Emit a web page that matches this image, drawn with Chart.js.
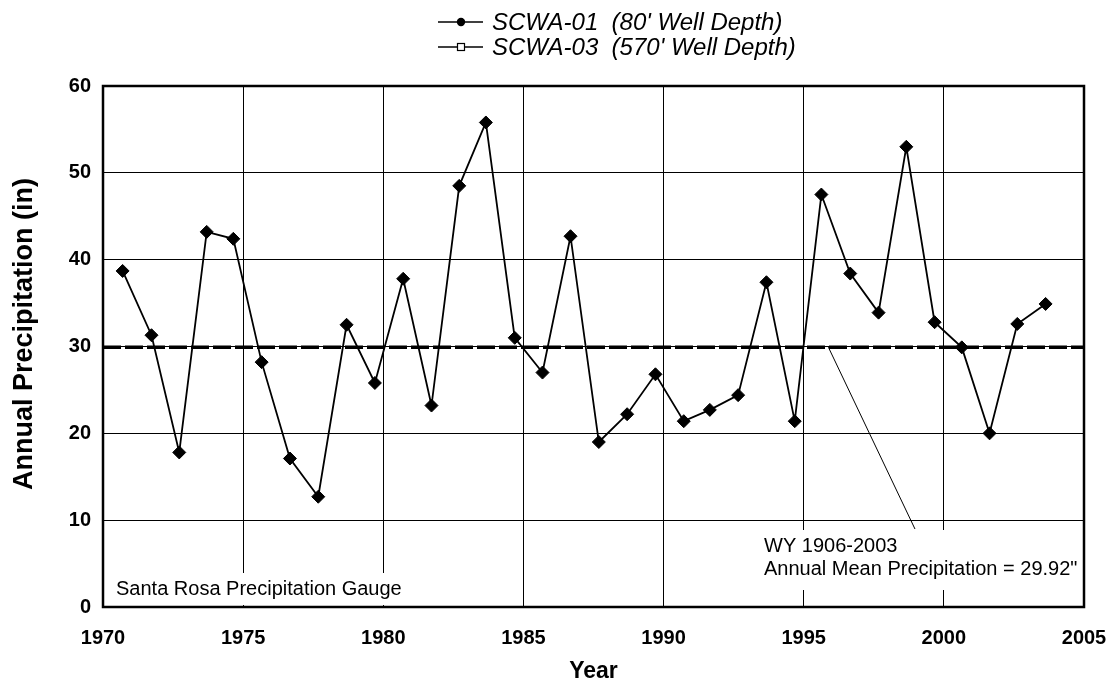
<!DOCTYPE html>
<html>
<head>
<meta charset="utf-8">
<script src="https://cdn.jsdelivr.net/npm/chart.js@4.4.1/dist/chart.umd.min.js"></script>
<style>
  html, body { margin: 0; padding: 0; background: #fff; }
  canvas { display: block; }
</style>
</head>
<body>
<canvas id="c" width="1112" height="685"></canvas>
<script>
// ---- data ----
const waterYearX = [1970.70,1971.73,1972.72,1973.70,1974.65,1975.66,1976.67,1977.68,1978.69,1979.70,
                    1980.71,1981.72,1982.71,1983.66,1984.69,1985.68,1986.68,1987.69,1988.70,1989.71,
                    1990.72,1991.65,1992.66,1993.67,1994.68,1995.63,1996.66,1997.67,1998.66,1999.67,
                    2000.64,2001.63,2002.62,2003.63];
const precipIn = [38.7,31.3,17.8,43.2,42.4,28.2,17.1,12.7,32.5,25.8,
                  37.8,23.2,48.5,55.8,31.0,27.0,42.7,19.0,22.2,26.8,
                  21.4,22.7,24.4,37.4,21.4,47.5,38.4,33.9,53.0,32.8,
                  29.9,20.0,32.6,34.9];
const meanPrecip = 29.92;
const meanSpanX = [1970, 2005];
const pointerX = [1995.88, 1998.97];
const pointerY = [29.92, 8.98];
const xTickLabels = ['1970','1975','1980','1985','1990','1995','2000','2005'];
const yTickLabels = ['0','10','20','30','40','50','60'];
const seriesLabels = ["SCWA-01  (80' Well Depth)", "SCWA-03  (570' Well Depth)"];
const yAxisTitle = 'Annual Precipitation (in)';
const gaugeLabel = 'Santa Rosa Precipitation Gauge';
const meanNote = ['WY 1906-2003', 'Annual Mean Precipitation = 29.92"'];

const FONT = "'Liberation Sans', Arial, Helvetica, sans-serif";

const overlay = {
  id: 'overlay',
  beforeDatasetsDraw(chart) {
    const ctx = chart.ctx;
    ctx.save();
    ctx.fillStyle = '#fff';
    ctx.fillRect(106, 573, 314, 32);
    ctx.fillRect(757, 530, 325, 60);
    ctx.restore();
  },
  afterDraw(chart) {
    const ctx = chart.ctx;
    const a = chart.chartArea;
    ctx.save();
    // frame
    ctx.strokeStyle = '#000';
    ctx.lineWidth = 2.5;
    ctx.strokeRect(a.left, a.top, a.right - a.left, a.bottom - a.top);
    // y axis title
    ctx.fillStyle = '#000';
    ctx.save();
    ctx.translate(25, 334);
    ctx.rotate(-Math.PI / 2);
    ctx.font = 'bold 27px ' + FONT;
    ctx.textAlign = 'center';
    ctx.textBaseline = 'middle';
    ctx.fillText(yAxisTitle, 0, 0);
    ctx.restore();
    // annotation texts
    ctx.textAlign = 'left';
    ctx.textBaseline = 'alphabetic';
    ctx.font = '20px ' + FONT;
    ctx.fillText(gaugeLabel, 116, 595);
    ctx.fillText(meanNote[0], 764, 551.5);
    ctx.fillText(meanNote[1], 764, 575);
    // legend
    const rows = [22, 47];
    ctx.font = 'italic 24px ' + FONT;
    ctx.textBaseline = 'middle';
    rows.forEach((ry, i) => {
      ctx.strokeStyle = '#000';
      ctx.lineWidth = 1.5;
      ctx.beginPath();
      ctx.moveTo(438, ry); ctx.lineTo(483, ry);
      ctx.stroke();
      if (i === 0) {
        ctx.beginPath();
        ctx.arc(461, ry, 4.2, 0, Math.PI * 2);
        ctx.fill();
      } else {
        ctx.fillStyle = '#fff';
        ctx.fillRect(457.5, ry - 3.5, 7, 7);
        ctx.fillStyle = '#000';
        ctx.lineWidth = 1.2;
        ctx.strokeRect(457.5, ry - 3.5, 7, 7);
      }
      ctx.fillText(chart.data.datasets[i].label, 492, ry + 1);
    });
    ctx.restore();
  }
};

new Chart(document.getElementById('c'), {
  type: 'line',
  data: {
    datasets: [
      {
        label: seriesLabels[0],
        data: waterYearX.map((x, i) => ({ x: x, y: precipIn[i] })),
        borderColor: '#000',
        backgroundColor: '#000',
        borderWidth: 1.8,
        pointStyle: 'rectRot',
        pointRadius: 6.5,
        pointBackgroundColor: '#000',
        pointBorderColor: '#000',
        pointBorderWidth: 1,
        tension: 0,
        order: 1
      },
      {
        label: seriesLabels[1],
        data: [],
        borderColor: '#000',
        backgroundColor: '#fff',
        pointStyle: 'rect',
        order: 2
      },
      {
        label: 'mean',
        data: meanSpanX.map(x => ({ x: x, y: meanPrecip })),
        borderColor: '#000',
        borderWidth: 3.4,
        borderDash: [18, 4],
        pointRadius: 0,
        order: 3
      },
      {
        label: 'pointer',
        data: pointerX.map((x, i) => ({ x: x, y: pointerY[i] })),
        borderColor: '#000',
        borderWidth: 1,
        pointRadius: 0,
        order: 4
      }
    ]
  },
  options: {
    responsive: false,
    animation: false,
    devicePixelRatio: 1,
    layout: { padding: { left: 0, right: 28, top: 86, bottom: 0 } },
    plugins: { legend: { display: false }, tooltip: { enabled: false } },
    scales: {
      x: {
        type: 'linear',
        min: 1970, max: 2005,
        afterFit(s) { s.height = 78; s.paddingLeft = 0; s.paddingRight = 0; },
        ticks: {
          stepSize: 5,
          padding: 19,
          color: '#000',
          font: { family: FONT, size: 20, weight: 'bold' },
          callback: (v) => xTickLabels[Math.round((v - 1970) / 5)] ?? ''
        },
        grid: { color: '#000', lineWidth: 1, drawTicks: false },
        border: { color: '#000', width: 2 },
        title: {
          display: true, text: 'Year', color: '#000',
          font: { family: FONT, size: 23, weight: 'bold' },
          padding: { top: 0, bottom: 0 }
        }
      },
      y: {
        type: 'linear',
        min: 0, max: 60,
        afterFit(s) { s.width = 103; s.paddingTop = 0; s.paddingBottom = 0; },
        ticks: {
          stepSize: 10,
          padding: 12,
          color: '#000',
          font: { family: FONT, size: 20, weight: 'bold' },
          callback: (v) => yTickLabels[Math.round(v / 10)] ?? ''
        },
        grid: { color: '#000', lineWidth: 1, drawTicks: false },
        border: { color: '#000', width: 2 },
        title: { display: false }
      }
    }
  },
  plugins: [overlay]
});
</script>
</body>
</html>
